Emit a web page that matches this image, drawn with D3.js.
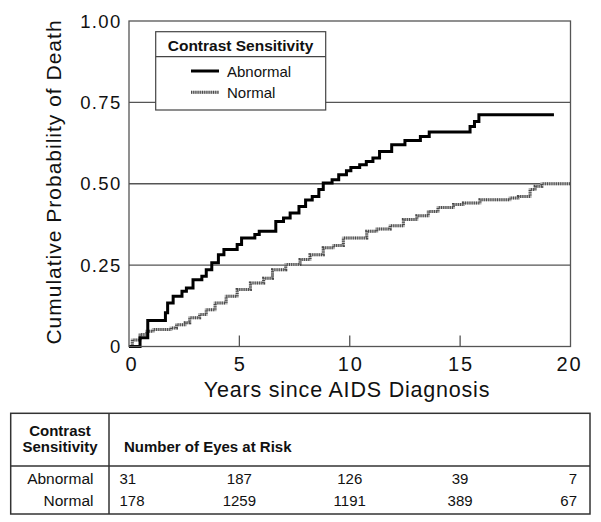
<!DOCTYPE html>
<html>
<head>
<meta charset="utf-8">
<script src="https://cdn.jsdelivr.net/npm/d3@7"></script>
<style>
  html, body { margin: 0; padding: 0; background: #fff; }
  svg { display: block; font-family: "Liberation Sans", Arial, Helvetica, sans-serif; }
</style>
</head>
<body>
<svg id="chart" width="601" height="522"></svg>
<script>
// ---- Data ----
const abnormalTimes = [0, 0.5, 0.85, 1.65, 1.75, 2.0, 2.4, 2.6, 2.9, 3.3, 3.5, 3.75, 4.05, 4.3, 4.9, 5.1, 5.7, 5.9, 6.65, 7.0, 7.3, 7.7, 8.0, 8.3, 8.6, 8.8, 9.2, 9.5, 9.85, 10.05, 10.45, 10.75, 11.05, 11.35, 11.9, 12.5, 13.2, 13.6, 15.45, 15.65, 15.85, 19.25];
const abnormalProb  = [0, 0.027, 0.08, 0.104, 0.134, 0.154, 0.17, 0.18, 0.205, 0.216, 0.236, 0.257, 0.282, 0.298, 0.313, 0.333, 0.344, 0.354, 0.384, 0.395, 0.41, 0.43, 0.45, 0.461, 0.482, 0.502, 0.512, 0.528, 0.54, 0.55, 0.558, 0.568, 0.579, 0.599, 0.62, 0.633, 0.645, 0.659, 0.676, 0.691, 0.712, 0.712];

const normalTimes = [0, 0.15, 0.5, 0.8, 1.1, 1.9, 2.15, 2.55, 2.75, 3.2, 3.5, 3.9, 4.4, 4.9, 5.5, 6.1, 6.5, 7.1, 7.75, 8.2, 8.8, 9.26, 9.71, 10.77, 11.22, 11.83, 12.43, 13.04, 13.56, 14.0, 14.7, 15.15, 15.9, 17.26, 17.64, 18.17, 18.4, 18.7, 20];
const normalProb  = [0, 0.02, 0.037, 0.047, 0.052, 0.057, 0.067, 0.073, 0.088, 0.098, 0.113, 0.134, 0.154, 0.175, 0.195, 0.21, 0.236, 0.252, 0.267, 0.282, 0.303, 0.31, 0.333, 0.354, 0.361, 0.371, 0.39, 0.402, 0.415, 0.427, 0.436, 0.441, 0.451, 0.456, 0.461, 0.482, 0.492, 0.5, 0.5];

const xTicks = [0, 5, 10, 15, 20];
const yTicks = [0, 0.25, 0.5, 0.75, 1.0];
const yTickLabels = ["0", "0.25", "0.50", "0.75", "1.00"];
const gridValues = [0.25, 0.5, 0.75];

const legendTitle = "Contrast Sensitivity";
const seriesNames = ["Abnormal", "Normal"];
const riskAbnormal = [31, 187, 126, 39, 7];
const riskNormal = [178, 1259, 1191, 389, 67];

// ---- Layout ----
const svg = d3.select("#chart");
const L = 129, R = 570.5, T = 21, B = 346.5;
const x = d3.scaleLinear().domain([0, 20]).range([L, R]);
const y = d3.scaleLinear().domain([0, 1]).range([B, T]);

// gridlines
svg.append("g").selectAll("line").data(gridValues).join("line")
  .attr("x1", L).attr("x2", R)
  .attr("y1", d => y(d)).attr("y2", d => y(d))
  .attr("stroke", "#555").attr("stroke-width", 1.3);

// x ticks inside plot (from bottom up)
svg.append("g").selectAll("line").data(xTicks.slice(1, -1)).join("line")
  .attr("x1", d => x(d)).attr("x2", d => x(d))
  .attr("y1", B).attr("y2", B - 11)
  .attr("stroke", "#555").attr("stroke-width", 1.3);

// curves
const line = d3.line().x(d => x(d[0])).y(d => y(d[1])).curve(d3.curveStepAfter);
const normalData = normalTimes.map((t, i) => [t, normalProb[i]]);
const abnormalData = abnormalTimes.map((t, i) => [t, abnormalProb[i]]);

svg.append("path").datum(normalData).attr("d", line)
  .attr("fill", "none").attr("stroke", "#b5b5b5").attr("stroke-width", 3);
svg.append("path").datum(normalData).attr("d", line)
  .attr("fill", "none").attr("stroke", "#4a4a4a").attr("stroke-width", 3)
  .attr("stroke-dasharray", "1,1.2");

svg.append("path").datum(abnormalData).attr("d", line)
  .attr("fill", "none").attr("stroke", "#000").attr("stroke-width", 3)
  .attr("stroke-linejoin", "miter");

// frame
svg.append("rect").attr("x", L).attr("y", T).attr("width", R - L).attr("height", B - T)
  .attr("fill", "none").attr("stroke", "#555").attr("stroke-width", 1.3);

// y tick labels
svg.append("g").selectAll("text").data(yTicks).join("text")
  .attr("x", 121.5).attr("y", d => y(d) + 6.5)
  .attr("text-anchor", "end").attr("font-size", 18.5).attr("letter-spacing", 1.3).attr("fill", "#111")
  .text((d, i) => yTickLabels[i]);

// x tick labels
svg.append("g").selectAll("text").data(xTicks).join("text")
  .attr("x", d => x(d) + 1 + (d === 0 ? 2 : (d === 20 ? -2 : 0))).attr("y", 371)
  .attr("text-anchor", "middle").attr("font-size", 20).attr("letter-spacing", 2).attr("fill", "#111")
  .text(d => d);

// axis titles
svg.append("text").attr("x", 347).attr("y", 396.5)
  .attr("text-anchor", "middle").attr("font-size", 21.5).attr("letter-spacing", 0.8).attr("fill", "#111")
  .text("Years since AIDS Diagnosis");
svg.append("text").attr("transform", "translate(61,182) rotate(-90)")
  .attr("text-anchor", "middle").attr("font-size", 21).attr("letter-spacing", 1).attr("fill", "#111")
  .text("Cumulative Probability of Death");

// legend
const lg = svg.append("g");
lg.append("rect").attr("x", 155.7).attr("y", 31.7).attr("width", 170).attr("height", 78.3)
  .attr("fill", "#fff").attr("stroke", "#444").attr("stroke-width", 1.2);
lg.append("line").attr("x1", 155.7).attr("x2", 325.7).attr("y1", 56.7).attr("y2", 56.7)
  .attr("stroke", "#444").attr("stroke-width", 1.2);
lg.append("text").attr("x", 240.5).attr("y", 50.5).attr("text-anchor", "middle")
  .attr("font-size", 15.5).attr("font-weight", "bold").attr("fill", "#111").text(legendTitle);
const legY = [71, 92.3];
lg.append("line").attr("x1", 191).attr("x2", 219).attr("y1", legY[0]).attr("y2", legY[0])
  .attr("stroke", "#000").attr("stroke-width", 3);
lg.append("line").attr("x1", 191).attr("x2", 219).attr("y1", legY[1]).attr("y2", legY[1])
  .attr("stroke", "#b5b5b5").attr("stroke-width", 3);
lg.append("line").attr("x1", 191).attr("x2", 219).attr("y1", legY[1]).attr("y2", legY[1])
  .attr("stroke", "#4a4a4a").attr("stroke-width", 3).attr("stroke-dasharray", "1,1.2");
lg.selectAll("text.item").data(seriesNames).join("text").attr("class", "item")
  .attr("x", 227).attr("y", (d, i) => legY[i] + 5.5)
  .attr("font-size", 15).attr("fill", "#111").text(d => d);

// risk table
const tb = svg.append("g");
const tL = 10.7, tR = 590, tT = 413.3, tB = 514, tV = 109, tH = 466;
tb.append("rect").attr("x", tL).attr("y", tT).attr("width", tR - tL).attr("height", tB - tT)
  .attr("fill", "none").attr("stroke", "#333").attr("stroke-width", 1.5);
tb.append("line").attr("x1", tV).attr("x2", tV).attr("y1", tT).attr("y2", tB)
  .attr("stroke", "#333").attr("stroke-width", 1.5);
tb.append("line").attr("x1", tL).attr("x2", tR).attr("y1", tH).attr("y2", tH)
  .attr("stroke", "#333").attr("stroke-width", 1.5);
tb.append("text").attr("x", 60).attr("y", 436).attr("text-anchor", "middle")
  .attr("font-size", 15).attr("font-weight", "bold").attr("fill", "#111").text("Contrast");
tb.append("text").attr("x", 60).attr("y", 452).attr("text-anchor", "middle")
  .attr("font-size", 15).attr("font-weight", "bold").attr("fill", "#111").text("Sensitivity");
tb.append("text").attr("x", 124).attr("y", 452)
  .attr("font-size", 15).attr("font-weight", "bold").attr("fill", "#111").text("Number of Eyes at Risk");

const rows = [riskAbnormal, riskNormal];
const rowY = [484, 506];
rows.forEach((vals, r) => {
  tb.append("text").attr("x", 93.5).attr("y", rowY[r]).attr("text-anchor", "end")
    .attr("font-size", 15.5).attr("fill", "#111").text(seriesNames[r]);
  tb.selectAll(null).data(vals).join("text")
    .attr("x", (d, i) => i === 0 ? 119.5 : (i === vals.length - 1 ? 577 : x(xTicks[i])))
    .attr("y", rowY[r])
    .attr("text-anchor", (d, i) => i === 0 ? "start" : (i === vals.length - 1 ? "end" : "middle"))
    .attr("font-size", 15).attr("fill", "#111").text(d => d);
});
</script>
</body>
</html>
